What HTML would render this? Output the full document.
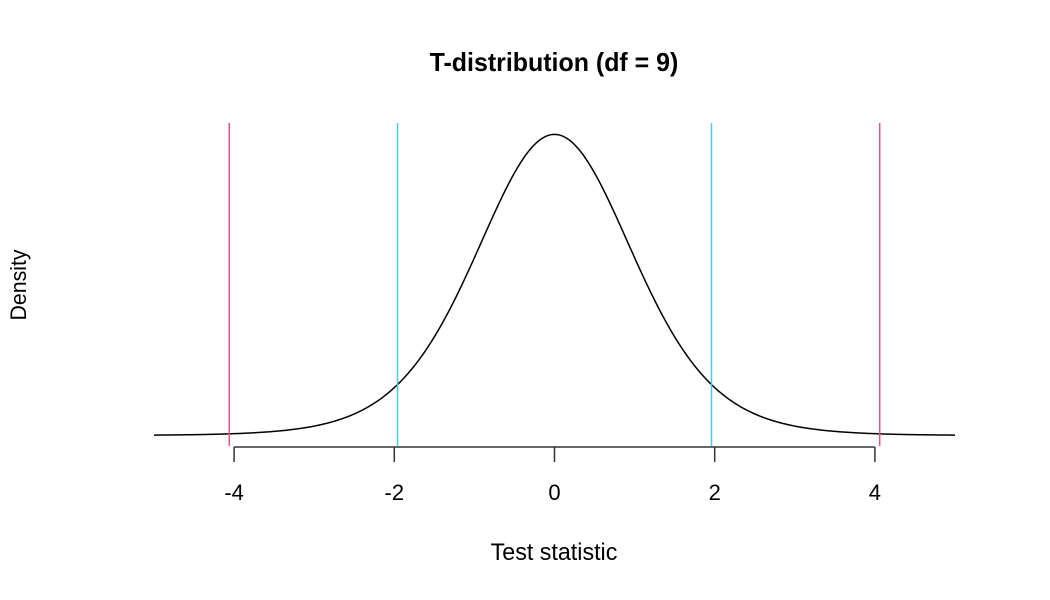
<!DOCTYPE html>
<html><head><meta charset="utf-8"><style>
html,body{margin:0;padding:0;background:#fff;}
svg{display:block;font-family:"Liberation Sans",sans-serif;}
</style></head><body>
<svg id="chart" width="1050" height="600">
<text x="554" y="71" text-anchor="middle" font-size="26" font-weight="bold" transform="translate(554,0) scale(0.96,1) translate(-554,0)">T-distribution (df = 9)</text>
<text x="554" y="560" text-anchor="middle" font-size="24" transform="translate(554,0) scale(0.97,1) translate(-554,0)">Test statistic</text>
<text x="0" y="0" text-anchor="middle" font-size="22" transform="translate(26,285) rotate(-90) scale(0.97,1)">Density</text>
<g id="axis"></g>
<g id="marks"></g>
</svg>
<script>
const df = 9;
const xTicks = [-4, -2, 0, 2, 4];
const xRange = [-5, 5];
const criticalLow = [-1.96, 1.96];
const criticalHigh = [-4.06, 4.06];
const NS = "http://www.w3.org/2000/svg";
const xs = v => 554.5 + v * 80.1;
const ys = d => 435.5 - d * 776;
function lgamma(z){const c=[76.18009172947146,-86.50532032941677,24.01409824083091,-1.231739572450155,0.1208650973866179e-2,-0.5395239384953e-5];let x=z,y=z,t=x+5.5;t-=(x+0.5)*Math.log(t);let s=1.000000000190015;for(const ci of c)s+=ci/++y;return -t+Math.log(2.5066282746310005*s/x);}
function dt(t){return Math.exp(lgamma((df+1)/2)-lgamma(df/2))/Math.sqrt(df*Math.PI)*Math.pow(1+t*t/df,-(df+1)/2);}
const axis = document.getElementById('axis'), marks = document.getElementById('marks');
function mk(tag, attrs, parent){const e=document.createElementNS(NS,tag);for(const k in attrs)e.setAttribute(k,attrs[k]);parent.appendChild(e);return e;}
const al = mk('line',{x1:xs(xTicks[0]),x2:xs(xTicks[xTicks.length-1]),y1:447,y2:447,stroke:'#333','stroke-width':1.5},axis);


xTicks.forEach(v=>{
  const t = mk('line',{x1:xs(v),x2:xs(v),y1:447,y2:462,stroke:'#333','stroke-width':1.5},axis);
  
  
  const l = mk('text',{x:xs(v),y:500,'text-anchor':'middle','font-size':22},axis);
  
  
  l.textContent = v;
});
let d='';
const n=400;
for(let i=0;i<=n;i++){const t=xRange[0]+(xRange[1]-xRange[0])*i/n;d+=(i?'L':'M')+xs(t).toFixed(2)+','+ys(dt(t)).toFixed(2);}
const curve = mk('path',{d:d,fill:'none',stroke:'#000','stroke-width':1.5},marks);


criticalLow.forEach(v=>{
  const l = mk('line',{x1:xs(v),x2:xs(v),y1:123,y2:446,stroke:'#4fc8e0','stroke-width':1.5},marks);
  
  
});
criticalHigh.forEach(v=>{
  const l = mk('line',{x1:xs(v),x2:xs(v),y1:123,y2:446,stroke:'#e05585','stroke-width':1.5},marks);
  
  
});
</script>
</body></html>
